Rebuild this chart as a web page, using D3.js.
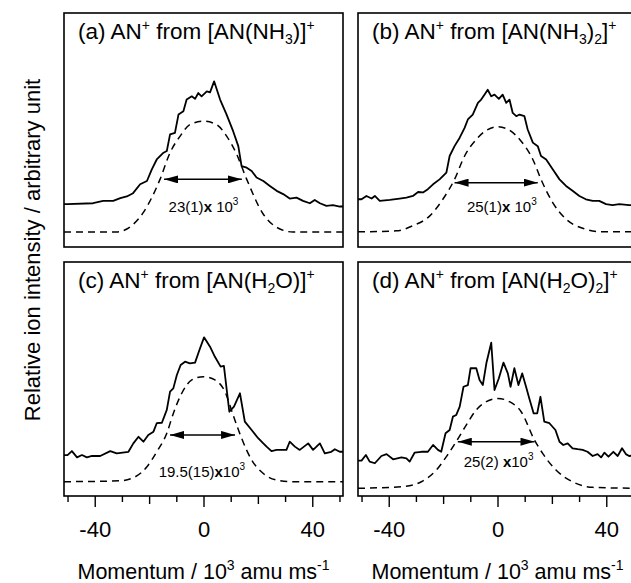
<!DOCTYPE html>
<html>
<head>
<meta charset="utf-8">
<script src="https://cdn.jsdelivr.net/npm/d3@7"></script>
<style>
  body { margin: 0; background: #fff; }
  svg { display: block; font-family: "Liberation Sans", Arial, sans-serif; }
</style>
</head>
<body>
<div id="viz_tool"></div>
<script>
// measured spectra, [momentum (10^3 amu m/s), intensity (arb.)]
var expA = [[-51.3,18.3],[-50.1,18.3],[-40.6,18.7],[-36.9,19.7],[-33.2,19.7],[-30.6,20.9],[-28.2,21.6],[-25.9,23.0],[-23.3,26.8],[-20.8,28.2],[-19.0,33.2],[-17.2,37.4],[-14.7,40.3],[-13.5,41.0],[-12.3,48.1],[-10.5,48.8],[-9.2,56.6],[-7.4,58.0],[-6.2,63.0],[-4.3,64.4],[-3.1,63.3],[-1.9,65.8],[-0.7,64.4],[1.2,66.5],[2.4,66.1],[3.9,70.8],[6.1,63.0],[8.5,56.6],[10.9,49.5],[12.8,43.1],[14.0,34.6],[15.9,33.9],[17.7,32.5],[19.5,29.7],[22.0,28.2],[24.4,26.1],[26.9,24.0],[29.3,22.6],[31.7,20.7],[34.2,21.1],[36.6,19.7],[39.1,18.7],[40.9,20.1],[42.8,18.7],[45.2,17.6],[47.6,17.9],[50.1,17.3],[51.3,17.3]];
var expB = [[-51.3,20.4],[-50.0,20.4],[-48.2,21.8],[-46.3,20.7],[-45.1,21.8],[-43.3,19.7],[-39.6,20.1],[-36.0,20.7],[-33.5,21.1],[-31.1,21.8],[-29.2,23.5],[-27.4,23.3],[-25.6,24.7],[-23.7,26.8],[-21.3,28.9],[-18.8,31.8],[-17.6,38.9],[-15.8,43.1],[-13.9,46.7],[-12.1,50.9],[-10.9,54.5],[-9.1,56.6],[-7.2,61.6],[-6.0,63.0],[-4.8,65.1],[-3.6,67.2],[-2.3,64.4],[-1.1,65.1],[0.5,63.3],[1.9,65.1],[3.2,61.6],[4.4,63.0],[5.6,57.3],[6.9,55.9],[8.1,56.6],[9.9,55.9],[11.1,50.2],[13.0,44.6],[14.8,43.1],[16.0,38.9],[17.9,37.4],[20.3,33.2],[22.8,28.9],[25.2,26.1],[27.6,24.0],[30.1,21.8],[32.5,20.4],[35.0,19.7],[37.4,19.7],[39.9,18.3],[42.3,17.9],[44.8,18.3],[48.4,17.9],[51.3,17.9]];
var expC = [[-51.3,17.5],[-50.0,17.5],[-48.4,19.2],[-46.5,16.5],[-44.7,17.5],[-42.9,16.5],[-41.0,17.1],[-38.0,17.1],[-34.3,19.2],[-31.9,18.2],[-27.6,18.9],[-25.8,22.5],[-23.9,25.3],[-22.1,23.2],[-20.3,26.1],[-18.4,27.5],[-17.2,31.1],[-15.3,31.3],[-13.5,36.8],[-12.3,44.6],[-11.1,46.0],[-9.8,51.7],[-8.4,56.0],[-6.8,57.4],[-5.0,56.7],[-3.1,57.0],[-1.5,62.4],[0.2,67.8],[2.4,63.8],[4.2,59.5],[6.3,55.3],[7.5,55.6],[9.5,36.0],[11.2,38.2],[13.4,43.9],[15.2,31.8],[17.7,28.2],[20.1,24.7],[22.0,22.5],[23.2,21.1],[25.0,19.2],[26.9,19.7],[28.7,19.7],[30.5,19.7],[31.7,23.2],[33.6,21.1],[35.4,19.7],[38.5,22.5],[40.3,19.7],[42.8,22.5],[44.6,18.2],[47.0,18.9],[48.3,20.0],[50.1,18.9],[51.3,18.9]];
var expD = [[-51.3,15.1],[-50.0,15.1],[-48.4,17.5],[-47.0,14.7],[-45.1,14.0],[-42.7,17.1],[-40.8,17.9],[-38.4,15.7],[-35.3,16.5],[-33.5,16.1],[-32.3,14.7],[-30.5,18.5],[-28.0,18.9],[-25.6,18.9],[-23.7,21.8],[-21.9,19.7],[-20.7,18.9],[-19.1,26.8],[-17.6,28.2],[-16.4,33.9],[-15.2,34.6],[-13.9,38.2],[-12.5,46.7],[-10.9,47.4],[-9.9,54.6],[-7.8,54.6],[-6.6,49.6],[-5.4,47.4],[-4.1,56.7],[-2.3,65.5],[-1.1,45.3],[0.5,50.3],[2.2,57.0],[3.8,52.4],[4.8,46.7],[6.2,54.6],[7.7,47.4],[9.1,52.4],[10.5,46.7],[11.7,41.7],[13.3,35.3],[14.6,35.3],[15.8,42.4],[17.2,31.8],[19.1,31.1],[21.3,28.2],[22.8,23.2],[24.2,21.8],[25.8,22.5],[27.6,20.4],[29.5,20.0],[31.3,19.7],[33.1,18.9],[35.0,17.1],[36.8,17.9],[38.1,16.5],[39.3,18.5],[40.8,16.8],[42.6,18.9],[44.2,17.1],[45.8,20.4],[47.2,17.9],[48.4,17.1],[51.3,17.5]];

// fitted curves (dashed)
var fitA = [[-51.3,6.4],[-32.0,6.4],[-28.2,7.7],[-22.1,14.8],[-16.0,28.9],[-12.3,40.3],[-8.6,47.4],[-5.0,52.3],[0,53.8],[4.8,52.3],[8.5,47.4],[12.2,39.6],[15.9,28.9],[22.0,14.0],[28.1,7.7],[32.9,6.4],[51.3,6.4]];
var fitB = [[-51.3,6.5],[-37.2,6.9],[-31.1,9.1],[-24.9,13.3],[-20.1,20.4],[-15.8,28.9],[-12.1,38.9],[-7.8,46.0],[-3.6,50.2],[0.1,51.4],[4.4,49.9],[8.7,45.2],[13.0,37.4],[16.0,28.9],[20.3,19.0],[25.2,11.9],[31.3,8.0],[38.6,6.5],[51.3,6.5]];
var fitC = [[-51.3,6.1],[-30.6,6.5],[-25.1,8.2],[-20.8,12.5],[-17.2,18.9],[-13.5,26.8],[-11.1,35.3],[-8.0,43.9],[-4.3,49.6],[0,51.0],[4.2,49.6],[7.9,44.6],[10.9,34.6],[14.0,24.7],[17.7,15.4],[21.9,9.7],[26.9,6.8],[33.0,6.1],[51.3,6.1]];
var fitD = [[-51.3,3.3],[-34.8,4.0],[-28.0,6.1],[-22.5,11.1],[-18.8,16.8],[-15.2,23.2],[-11.5,30.3],[-7.8,36.8],[-4.1,40.3],[0.1,41.7],[4.4,40.3],[8.7,36.0],[13.6,23.9],[16.6,18.2],[21.5,11.1],[27.6,6.1],[35.0,3.7],[51.3,3.3]];

// FWHM arrows: [left, right, height] and label anchor [x, y]
var fwhmArrow = [[-14.5,14.1,28.9],[-15.8,14.8,27.5],[-12.3,11.6,26.1],[-14.6,13.6,23.2]];
var fwhmLabelPos = [[0,14.9],[1.6,14.9],[-0.6,8.2],[0.4,12.5]];
var fwhmPre = ["23(1)","25(1)","19.5(15)","25(2) "];
var fwhmPost = [" 10"," 10","10","10"];

// titles: [text, kind] with kind n = normal, p = superscript, b = subscript
var titles = [
  [["(a) AN","n"],["+","p"],[" from [AN(NH","n"],["3","b"],[")]","n"],["+","p"]],
  [["(b) AN","n"],["+","p"],[" from [AN(NH","n"],["3","b"],[")","n"],["2","b"],["]","n"],["+","p"]],
  [["(c) AN","n"],["+","p"],[" from [AN(H","n"],["2","b"],["O)]","n"],["+","p"]],
  [["(d) AN","n"],["+","p"],[" from [AN(H","n"],["2","b"],["O)","n"],["2","b"],["]","n"],["+","p"]]
];

var tickVals = [-50,-40,-30,-20,-10,0,10,20,30,40,50];
var tickLabels = [-40,0,40];
var xDomain = [-51.3, 51.3];

var exps = [expA, expB, expC, expD];
var fits = [fitA, fitB, fitC, fitD];

var W = 631, H = 583;
var pw = 279, ph = 234;
var colX = [64, 358], rowY = [13, 262];

var svg = d3.select("#viz_tool").append("svg")
    .attr("width", W).attr("height", H);

var x = d3.scaleLinear().domain(xDomain).range([0, pw]);
var y = d3.scaleLinear().domain([0, 100]).range([ph, 0]);

var defs = svg.append("defs");
defs.append("marker")
    .attr("id", "ah")
    .attr("viewBox", "0 0 14 8")
    .attr("refX", 14).attr("refY", 4)
    .attr("markerWidth", 14).attr("markerHeight", 8)
    .attr("markerUnits", "userSpaceOnUse")
    .attr("orient", "auto-start-reverse")
  .append("path")
    .attr("d", "M0,0 L14,4 L0,8 Z")
    .attr("fill", "#000");

var line = d3.line().x(d => x(d[0])).y(d => y(d[1]));
var smooth = d3.line().x(d => x(d[0])).y(d => y(d[1])).curve(d3.curveMonotoneX);

function addRich(sel, parts, size, supSize, upShift, downShift) {
    var off = 0;
    parts.forEach(function(p) {
        var t = sel.append("tspan").text(p[0]);
        var target = p[1] == "p" ? -upShift : (p[1] == "b" ? downShift : 0);
        t.attr("dy", target - off);
        off = target;
        t.attr("font-size", p[1] == "n" ? size : supSize);
        if (p[2]) t.attr("font-weight", "bold");
    });
}

for (let i = 0; i < 4; i++) {
    let col = i % 2, row = Math.floor(i / 2);
    let g = svg.append("g")
        .attr("transform", "translate(" + colX[col] + "," + rowY[row] + ")");

    g.append("path").attr("d", smooth(fits[i]))
        .attr("fill", "none").attr("stroke", "#000")
        .attr("stroke-width", 1.5).attr("stroke-dasharray", "7,5");

    g.append("path").attr("d", line(exps[i]))
        .attr("fill", "none").attr("stroke", "#000")
        .attr("stroke-width", 1.8).attr("stroke-linejoin", "round");

    let a = fwhmArrow[i];
    g.append("line")
        .attr("x1", x(a[0])).attr("x2", x(a[1]))
        .attr("y1", y(a[2])).attr("y2", y(a[2]))
        .attr("stroke", "#000").attr("stroke-width", 1.5)
        .attr("marker-start", "url(#ah)").attr("marker-end", "url(#ah)");

    let lab = g.append("text")
        .attr("x", x(fwhmLabelPos[i][0])).attr("y", y(fwhmLabelPos[i][1]))
        .attr("text-anchor", "middle").attr("fill", "#000");
    addRich(lab, [[fwhmPre[i], "n"], ["x", "n", true], [fwhmPost[i], "n"], ["3", "p"]], 15, 10, 7, 0);

    let tt = g.append("text").attr("x", 14).attr("y", 26).attr("fill", "#000");
    addRich(tt, titles[i], 22.5, 14, 9, 5);

    g.append("rect")
        .attr("width", pw).attr("height", ph)
        .attr("fill", "none").attr("stroke", "#000").attr("stroke-width", 1.6);

    if (row == 1) {
        let ax = g.append("g")
            .attr("transform", "translate(0," + ph + ")")
            .call(d3.axisBottom(x).tickValues(tickVals)
                .tickFormat(d => tickLabels.indexOf(d) >= 0 ? d : ""));
        ax.select(".domain").remove();
        ax.selectAll(".tick line")
            .attr("stroke-width", 1.4)
            .attr("y2", d => tickLabels.indexOf(d) >= 0 ? 11 : (Math.abs(d) == 20 ? 8 : 6));
        ax.selectAll(".tick text")
            .attr("y", 41).attr("dy", 0)
            .attr("font-size", 22).attr("font-family", "Liberation Sans, Arial, sans-serif")
            .attr("fill", "#000");

        let xt = svg.append("text")
            .attr("x", colX[col] + pw / 2).attr("y", 579)
            .attr("text-anchor", "middle").attr("fill", "#000");
        addRich(xt, [["Momentum / 10", "n"], ["3", "p"], [" amu ms", "n"], ["-1", "p"]], 21.5, 14, 9, 0);
    }
}

svg.append("text")
    .attr("transform", "translate(40,250) rotate(-90)")
    .attr("text-anchor", "middle")
    .attr("font-size", 22)
    .attr("fill", "#000")
    .text("Relative ion intensity / arbitrary unit");
</script>
</body>
</html>
